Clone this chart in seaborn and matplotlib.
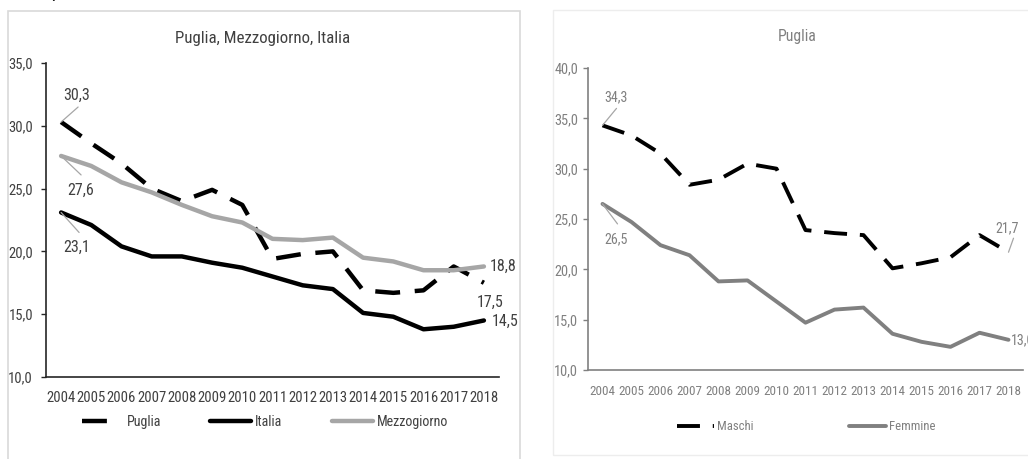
import numpy as np
import pandas as pd
import matplotlib
matplotlib.use("Agg")
import matplotlib.pyplot as plt
from matplotlib import font_manager
from matplotlib.font_manager import FontProperties
from matplotlib.textpath import TextPath
from matplotlib.patches import Rectangle
import seaborn as sns

# --- data -------------------------------------------------------------
years = list(range(2004, 2019))

puglia = [30.3, 28.6, 27.0, 25.0, 24.0, 24.9, 23.7, 19.4, 19.8, 20.0,
          16.9, 16.7, 16.9, 18.8, 17.5]
italia = [23.1, 22.1, 20.4, 19.6, 19.6, 19.1, 18.7, 18.0, 17.3, 17.0,
          15.1, 14.8, 13.8, 14.0, 14.5]
mezzogiorno = [27.6, 26.8, 25.5, 24.7, 23.7, 22.8, 22.3, 21.0, 20.9, 21.1,
               19.5, 19.2, 18.5, 18.5, 18.8]

maschi = [34.3, 33.3, 31.5, 28.4, 28.9, 30.5, 30.0, 23.9, 23.6, 23.4,
          20.1, 20.6, 21.2, 23.4, 21.7]
femmine = [26.5, 24.7, 22.4, 21.4, 18.8, 18.9, 16.8, 14.7, 16.0, 16.2,
           13.6, 12.8, 12.3, 13.7, 13.0]

left_title = "Puglia, Mezzogiorno, Italia"
right_title = "Puglia"
left_yticks = [10, 15, 20, 25, 30, 35]
right_yticks = [10, 15, 20, 25, 30, 35, 40]

# --- fonts ------------------------------------------------------------
sns.set_theme(style="white")
available = {f.name for f in font_manager.fontManager.ttflist}
preferred = ["Arial Narrow", "Liberation Sans Narrow", "Roboto Condensed",
             "Archivo Narrow", "PT Sans Narrow", "Pragati Narrow",
             "Fira Sans Condensed", "IBM Plex Sans Condensed", "Liberation Sans"]
narrow = next((f for f in preferred if f in available), "DejaVu Sans")
plt.rcParams["font.family"] = [narrow, "DejaVu Sans"]

def fit_size(text, width_px):
    """Font size (pt) at which `text` is about width_px pixels wide at 100 dpi."""
    tp = TextPath((0, 0), text, size=10, prop=FontProperties(family=narrow))
    w_pt = tp.get_extents().width / 10.0
    return width_px * 0.72 / w_pt

PX = 0.72  # points per pixel at 100 dpi

FS_LX = fit_size("2004", 28)
FS_LY = fit_size("35,0", 23)
FS_LV = fit_size("30,3", 25)
FS_LL = fit_size("Mezzogiorno", 70)
FS_LT = fit_size(left_title, 174)
FS_RX = fit_size("2004", 25)
FS_RY = fit_size("40,0", 23)
FS_RV = fit_size("34,3", 22)
FS_RL = fit_size("Femmine", 45)
FS_RT = fit_size(right_title, 37)

def fmt(v):
    return f"{v:.1f}".replace(".", ",")

W, H = 1028, 459
fig = plt.figure(figsize=(W / 100, H / 100), dpi=100)
fig.patch.set_facecolor("white")

def px_axes(x0, y0, x1, y1):
    return fig.add_axes([x0 / W, 1 - y1 / H, (x1 - x0) / W, (y1 - y0) / H])

# panel frames
fig.add_artist(Rectangle((8 / W, -0.1), (520 - 8) / W, 1.1 - 11 / H,
                         transform=fig.transFigure, fill=False,
                         edgecolor="#d9d9d9", lw=1.2))
fig.add_artist(Rectangle((553 / W, 1 - 455 / H), (1040 - 553) / W, (455 - 10) / H,
                         transform=fig.transFigure, fill=False,
                         edgecolor="#ededed", lw=1.0))
fig.text(57 / W, 1.0 + 3 / H, "p", fontsize=14, fontstyle="italic",
         family="DejaVu Serif", color="#222222", ha="center", va="baseline")

def style_axes(ax, yticks, col_axis, col_text, fsx, fsy, xpad, ypad):
    ax.set_xlim(2003.5, 2018.5)
    ax.set_ylim(yticks[0], yticks[-1])
    ax.set_yticks(yticks)
    ax.set_yticklabels([fmt(v) for v in yticks], color=col_text, fontsize=fsy)
    ax.set_xticks(years)
    ax.set_xticklabels([str(y) for y in years], color=col_text, fontsize=fsx)
    ax.set_xticks(np.arange(2004.5, 2018.6, 1), minor=True)
    ax.tick_params(axis="x", which="major", length=0, pad=xpad)
    ax.tick_params(axis="x", which="minor", length=8 * PX, width=1.0,
                   direction="in", color=col_axis)
    ax.tick_params(axis="y", length=5 * PX, width=1.0, direction="out",
                   color=col_axis, pad=ypad, left=True)
    for s in ["top", "right"]:
        ax.spines[s].set_visible(False)
    for s in ["left", "bottom"]:
        ax.spines[s].set_color(col_axis)
        ax.spines[s].set_linewidth(1.2)
    ax.set_xlabel("")
    ax.set_ylabel("")
    ax.set_facecolor("none")
    ax.grid(False)

lead = "#a6a6a6"
def label(ax, x, y, tx, ty, text, col, fs, lx=None, ly=None, ha="center"):
    ax.annotate(text, xy=(x, y), xytext=(tx, ty), textcoords="offset pixels",
                ha=ha, va="center", color=col, fontsize=fs, annotation_clip=False)
    if lx is not None:
        ax.annotate("", xy=(x, y), xytext=(lx, ly), textcoords="offset pixels",
                    arrowprops=dict(arrowstyle="-", color=lead, lw=0.9,
                                    shrinkA=0, shrinkB=0))

# --- left panel -------------------------------------------------------
TXT_L = "#404040"
axL = px_axes(46, 63, 499, 377)
dfL = pd.DataFrame({"anno": years, "Puglia": puglia,
                    "Italia": italia, "Mezzogiorno": mezzogiorno})
sns.lineplot(data=dfL, x="anno", y="Puglia", ax=axL, color="black", lw=3.2,
             linestyle=(0, (5.6, 3.3)), label="Puglia")
sns.lineplot(data=dfL, x="anno", y="Italia", ax=axL, color="black", lw=3.2,
             label="Italia")
sns.lineplot(data=dfL, x="anno", y="Mezzogiorno", ax=axL, color="#a6a6a6", lw=3.2,
             label="Mezzogiorno")
style_axes(axL, left_yticks, "#262626", TXT_L, FS_LX, FS_LY, 10, 8 * PX)
axL.text(0.479, 1 + 25 / 314, left_title, transform=axL.transAxes,
         ha="center", va="center", color=TXT_L, fontsize=FS_LT)

label(axL, years[0], puglia[0], 16, 27, fmt(puglia[0]), TXT_L, FS_LV, 17, 15)
label(axL, years[0], mezzogiorno[0], 20, -34, fmt(mezzogiorno[0]), TXT_L, FS_LV, 20, -19)
label(axL, years[0], italia[0], 16, -35, fmt(italia[0]), TXT_L, FS_LV, 18, -20)
label(axL, years[-1], mezzogiorno[-1], 6, 0, fmt(mezzogiorno[-1]), TXT_L, FS_LV, ha="left")
label(axL, years[-1], puglia[-1], 6, -20, fmt(puglia[-1]), TXT_L, FS_LV)
label(axL, years[-1], italia[-1], 8, -1, fmt(italia[-1]), TXT_L, FS_LV, ha="left")

legL = axL.legend(loc="center left", bbox_to_anchor=((82 - 46) / 453, -45 / 314), ncol=3,
                  frameon=False, borderpad=0, borderaxespad=0, fontsize=FS_LL,
                  handlelength=41 * PX / FS_LL, columnspacing=49 * PX / FS_LL,
                  handletextpad=4 * PX / FS_LL, labelcolor=TXT_L)
# the dashed key shows a single long dash
legL.get_lines()[0].set_linestyle((0, (5.6, 6.0)))

# --- right panel ------------------------------------------------------
TXT_R = "#808080"
axR = px_axes(588, 68, 1023, 370)
dfR = pd.DataFrame({"anno": years, "Maschi": maschi, "Femmine": femmine})
sns.lineplot(data=dfR, x="anno", y="Maschi", ax=axR, color="black", lw=2.8,
             linestyle=(0, (5.9, 3.3)), label="Maschi")
sns.lineplot(data=dfR, x="anno", y="Femmine", ax=axR, color="#808080", lw=2.8,
             label="Femmine")
style_axes(axR, right_yticks, "#808080", TXT_R, FS_RX, FS_RY, 10.5, 5 * PX)
axR.text(0.48, 1 + 31 / 302, right_title, transform=axR.transAxes,
         ha="center", va="center", color=TXT_R, fontsize=FS_RT)

label(axR, years[0], maschi[0], 14, 28, fmt(maschi[0]), TXT_R, FS_RV, 14, 17)
label(axR, years[0], femmine[0], 14, -35, fmt(femmine[0]), TXT_R, FS_RV, 15, -20)
label(axR, years[-1], maschi[-1], -1, 24, fmt(maschi[-1]), TXT_R, FS_RV, 5, 14)
label(axR, years[-1], femmine[-1], 2, 0, fmt(femmine[-1]), TXT_R, FS_RV, ha="left")

axR.legend(loc="center left", bbox_to_anchor=((677 - 588) / 435, -57 / 302), ncol=2,
           frameon=False, borderpad=0, borderaxespad=0, fontsize=FS_RL,
           handlelength=37 * PX / FS_RL, columnspacing=95 * PX / FS_RL,
           handletextpad=3 * PX / FS_RL, labelcolor=TXT_R)

fig.savefig("out.png", dpi=100, facecolor="white")
